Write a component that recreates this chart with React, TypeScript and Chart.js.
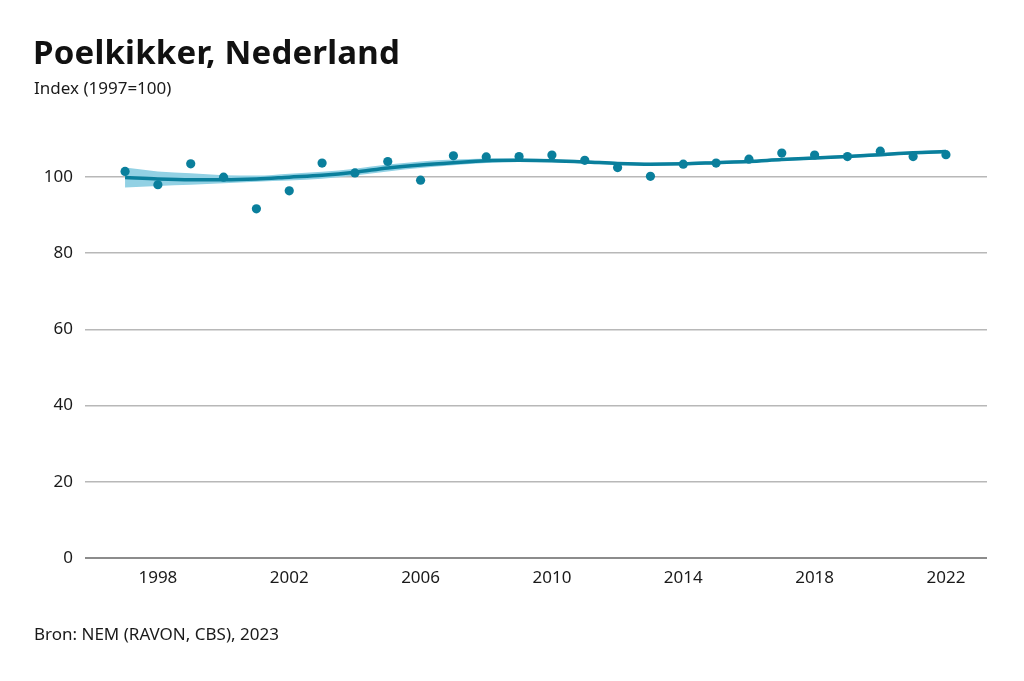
import React, { useEffect, useRef } from 'react';
import Chart from 'chart.js/auto';

const years = [1997, 1998, 1999, 2000, 2001, 2002, 2003, 2004, 2005, 2006, 2007, 2008, 2009,
  2010, 2011, 2012, 2013, 2014, 2015, 2016, 2017, 2018, 2019, 2020, 2021, 2022];
const indexValues = [101.4, 97.9, 103.4, 99.9, 91.6, 96.3, 103.6, 101.0, 104.0, 99.1, 105.5, 105.2, 105.3,
  105.7, 104.3, 102.4, 100.1, 103.3, 103.6, 104.6, 106.2, 105.7, 105.3, 106.7, 105.3, 105.8];
const trend = [99.8, 99.4, 99.2, 99.2, 99.4, 99.9, 100.4, 101.2, 102.3, 103.1, 103.7, 104.2, 104.3,
  104.2, 103.9, 103.5, 103.3, 103.4, 103.7, 104.0, 104.5, 104.9, 105.3, 105.8, 106.3, 106.6];
const trendLower = [97.2, 97.6, 97.9, 98.3, 98.7, 99.0, 99.5, 100.3, 101.4, 102.3, 103.0, 103.6, 103.9,
  103.8, 103.5, 103.1, 102.9, 103.0, 103.3, 103.6, 104.1, 104.5, 104.9, 105.4, 105.9, 106.1];
const trendUpper = [102.4, 101.4, 100.9, 100.4, 100.3, 100.8, 101.3, 102.1, 103.2, 104.0, 104.5, 104.8, 104.8,
  104.6, 104.3, 103.9, 103.7, 103.8, 104.1, 104.4, 104.9, 105.3, 105.7, 106.2, 106.7, 107.1];
const xTicks = [1998, 2002, 2006, 2010, 2014, 2018, 2022];
const yTicks = [0, 20, 40, 60, 80, 100];

const teal = '#0a7f9c';
const band = '#92d1e4';
const font = '"Noto Sans", sans-serif';

const pts = (vals: number[]) => years.map((y, i) => ({ x: y, y: vals[i] }));

const App = () => {
  const chartRef = useRef<HTMLCanvasElement>(null);

  useEffect(() => {
    if (!chartRef.current) return;
    const chart = new Chart(chartRef.current, {
      type: 'line',
      data: {
        datasets: [
          {
            data: pts(indexValues),
            showLine: false,
            pointRadius: 4.6,
            pointBackgroundColor: teal,
            pointBorderWidth: 0
          },
          {
            data: pts(trend),
            borderColor: teal,
            borderWidth: 3.5,
            pointRadius: 0,
            cubicInterpolationMode: 'monotone',
            fill: false
          },
          {
            data: pts(trendLower),
            borderWidth: 0,
            pointRadius: 0,
            cubicInterpolationMode: 'monotone',
            fill: false
          },
          {
            data: pts(trendUpper),
            borderWidth: 0,
            pointRadius: 0,
            backgroundColor: band,
            cubicInterpolationMode: 'monotone',
            fill: '-1'
          }
        ]
      },
      options: {
        animation: false,
        responsive: false,
        layout: { padding: { top: 131, right: 37, left: 0, bottom: 0 } },
        plugins: {
          legend: { display: false },
          tooltip: { enabled: false }
        },
        scales: {
          x: {
            type: 'linear',
            min: 1995.78,
            max: 2023.25,
            afterBuildTicks: (s: any) => {
              s.ticks = xTicks.map((v) => ({ value: v }));
            },
            afterFit: (s: any) => {
              s.height = 123;
            },
            grid: { display: false, drawTicks: false },
            border: { display: false },
            ticks: {
              padding: 10,
              color: '#1a1a1a',
              font: { family: font, size: 17 },
              callback: (v: any) => String(v)
            }
          },
          y: {
            min: 0,
            max: 112,
            afterBuildTicks: (s: any) => {
              s.ticks = yTicks.map((v) => ({ value: v }));
            },
            afterFit: (s: any) => {
              s.width = 85;
            },
            grid: {
              drawTicks: false,
              color: (c: any) => (c.tick && c.tick.value === 0 ? '#8c8c8c' : '#b8b8b8'),
              lineWidth: (c: any) => (c.tick && c.tick.value === 0 ? 2 : 1.5)
            },
            border: { display: false },
            ticks: {
              padding: 12,
              color: '#1a1a1a',
              font: { family: font, size: 17 }
            }
          }
        }
      }
    });
    return () => {
      chart.destroy();
    };
  }, []);

  return (
    <div style={{ position: 'fixed', left: 0, top: 0, width: 1024, height: 681, background: '#fff', fontFamily: font, color: '#111' }}>
      <canvas ref={chartRef} width={1024} height={681} style={{ position: 'absolute', left: 0, top: 0 }} />
      <div style={{ position: 'absolute', left: 33, top: 35, fontSize: 33, lineHeight: '33px', fontWeight: 700, letterSpacing: 0.2 }}>
        Poelkikker, Nederland
      </div>
      <div style={{ position: 'absolute', left: 34, top: 79, fontSize: 17, lineHeight: '17px', color: '#1a1a1a' }}>
        Index (1997=100)
      </div>
      <div style={{ position: 'absolute', left: 34, top: 625, fontSize: 17, lineHeight: '17px', color: '#1a1a1a' }}>
        Bron: NEM (RAVON, CBS), 2023
      </div>
    </div>
  );
};

export default App;
